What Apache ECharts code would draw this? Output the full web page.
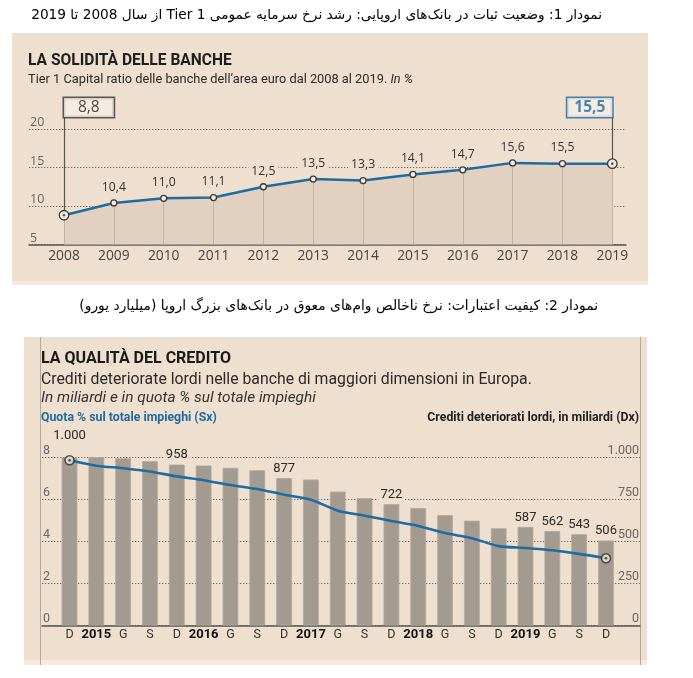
<!DOCTYPE html>
<html>
<head>
<meta charset="utf-8">
<script src="https://cdn.jsdelivr.net/npm/echarts@6/dist/echarts.min.js"></script>
<style>
html,body{margin:0;padding:0;background:#ffffff;}
#c{width:693px;height:678px;}
</style>
</head>
<body>
<div id="c"></div>
<script>
// ---------- Chart 1 data ----------
const years = ['2008','2009','2010','2011','2012','2013','2014','2015','2016','2017','2018','2019'];
const tier1 = [8.8, 10.4, 11.0, 11.1, 12.5, 13.5, 13.3, 14.1, 14.7, 15.6, 15.5, 15.5];
const tier1Ticks = [5, 10, 15, 20];

// ---------- Chart 2 data ----------
const quarters = ['2014-12','2015-03','2015-06','2015-09','2015-12','2016-03','2016-06','2016-09','2016-12',
  '2017-03','2017-06','2017-09','2017-12','2018-03','2018-06','2018-09','2018-12','2019-03','2019-06','2019-09','2019-12'];
const quarterTicks = ['D','2015','G','S','D','2016','G','S','D','2017','G','S','D','2018','G','S','D','2019','G','S','D'];
const nplBillion = [1000, 1015, 995, 978, 958, 952, 938, 924, 877, 869, 797, 758, 722, 699, 657, 624, 579, 587, 562, 543, 506];
const nplShare = [7.87, 7.61, 7.49, 7.33, 7.10, 6.92, 6.69, 6.50, 6.23, 5.99, 5.47, 5.23, 4.98, 4.74, 4.40, 4.16, 3.78, 3.69, 3.58, 3.41, 3.20];
const nplLabelled = [0, 4, 8, 12, 17, 18, 19, 20];
const shareTicks = [0, 2, 4, 6, 8];
const billionTicks = [0, 250, 500, 750, 1000];

// ---------- Texts ----------
const CAP1 = 'نمودار 1: وضعیت ثبات در بانک‌های اروپایی: رشد نرخ سرمایه عمومی Tier 1 از سال 2008 تا 2019';
const CAP2 = 'نمودار 2: کیفیت اعتبارات: نرخ ناخالص وام‌های معوق در بانک‌های بزرگ اروپا (میلیارد یورو)';
const T1 = 'LA SOLIDITÀ DELLE BANCHE';
const S1 = 'Tier 1 Capital ratio delle banche dell’area euro dal 2008 al 2019.';
const S1b = 'In %';
const T2 = 'LA QUALITÀ DEL CREDITO';
const S2 = 'Crediti deteriorate lordi nelle banche di maggiori dimensioni in Europa.';
const S2b = 'In miliardi e in quota % sul totale impieghi';
const L2a = 'Quota % sul totale impieghi (Sx)';
const L2b = 'Crediti deteriorati lordi, in miliardi (Dx)';

// ---------- Styling ----------
const PANEL = '#eedfcf';
const STRIP = '#f7eadc';
const AREA = '#e2d0c0';
const BLUE = '#1c6ca3';
const BAR = '#a39b90';
const GRIDC = '#6f6b67';
const F1 = '"Open Sans", "Noto Sans", sans-serif';
const F2 = 'Roboto, "Noto Sans", sans-serif';
const FP = '"DejaVu Sans", "Noto Sans", serif';

const Y1_MIN = tier1Ticks[0];
const Y1_MAX = tier1Ticks[tier1Ticks.length - 1];
const Y1_TOP = 21.5; // headroom for the value boxes
const PX1 = 7.7;     // px per unit chart 1
const AX1 = 244.5;   // baseline y of chart 1

const fmt1 = v => v.toFixed(1).replace('.', ',');
const fmt2 = v => String(v).replace(/\B(?=(\d{3})+(?!\d))/g, '.');

const dotted = {type: [1.3, 1.7], color: GRIDC, width: 1.1};

const last1 = tier1.length - 1;
const last2 = nplShare.length - 1;

const txt = (text, x, y, align, extra) => ({type: 'text', z: 10,
  style: Object.assign({text: text, x: x, y: y, align: align, verticalAlign: 'middle', textAlign: align, textVerticalAlign: 'middle'}, extra)});

const option = {
  animation: false,
  backgroundColor: '#ffffff',
  graphic: [
    {type: 'rect', z: -5, shape: {x: 12, y: 33, width: 636, height: 252}, style: {fill: PANEL}},
    {type: 'rect', z: -4, shape: {x: 12, y: 281, width: 636, height: 4}, style: {fill: STRIP}},
    {type: 'rect', z: -5, shape: {x: 24, y: 337, width: 623, height: 328}, style: {fill: PANEL}},
    {type: 'rect', z: -4, shape: {x: 24, y: 660, width: 623, height: 5}, style: {fill: STRIP}},
    {type: 'line', z: -3, shape: {x1: 40.5, y1: 337, x2: 40.5, y2: 665}, style: {stroke: '#b3a79b', lineWidth: 1}},
    {type: 'line', z: -3, shape: {x1: 640.5, y1: 337, x2: 640.5, y2: 665}, style: {stroke: '#b3a79b', lineWidth: 1}},
    txt('\u202B' + CAP1 + '\u202C', 602, 15, 'right', {fontSize: 13.7, fontFamily: FP, fill: '#000'}),
    txt('\u202B' + CAP2 + '\u202C', 598, 306.5, 'right', {fontSize: 13.85, fontFamily: FP, fill: '#000'}),
    txt(T1, 28, 61.5, 'left', {fontSize: 15.6, fontWeight: 'bold', fontFamily: F2, fill: '#1e1e1e'}),
    txt('{a|' + S1 + ' }{b|' + S1b + '}', 28, 80, 'left', {
      rich: {a: {fontSize: 12.8, fontFamily: F2, fill: '#2a2a2a', color: '#2a2a2a'}, b: {fontSize: 12.8, fontFamily: F2, fontStyle: 'italic', fill: '#2a2a2a', color: '#2a2a2a'}}}),
    txt(T2, 41, 359, 'left', {fontSize: 16, fontWeight: 'bold', fontFamily: F2, fill: '#1a1a1a'}),
    txt(S2, 41, 380, 'left', {fontSize: 15.8, fontFamily: F2, fill: '#2a2a2a'}),
    txt(S2b, 41, 398.5, 'left', {fontSize: 15.4, fontStyle: 'italic', fontFamily: F2, fill: '#333'}),
    txt(L2a, 41, 418, 'left', {fontSize: 12.3, fontWeight: 'bold', fontFamily: F2, fill: BLUE}),
    txt(L2b, 639, 417.5, 'right', {fontSize: 12.3, fontWeight: 'bold', fontFamily: F2, fill: '#1e1e1e'})
  ],
  grid: [
    {left: 29, right: 67, top: AX1 - (Y1_MAX - Y1_MIN) * PX1, bottom: 678 - AX1},
    {left: 64, right: 80.7, top: AX1 - (Y1_TOP - Y1_MIN) * PX1, bottom: 678 - AX1},
    {left: 42, right: 53, top: 457.5, bottom: 52.5},
    {left: 56.1, right: 73.6, top: 457.5, bottom: 52.5}
  ],
  xAxis: [
    {gridIndex: 0, type: 'value', min: 0, max: 1, axisLine: {show: true, onZero: false, lineStyle: {color: '#555', width: 1.5}}, axisTick: {show: false}, axisLabel: {show: false}, splitLine: {show: false}},
    {gridIndex: 1, type: 'category', data: years, boundaryGap: false, axisLine: {show: false}, axisTick: {show: false},
      axisLabel: {interval: 0, margin: 5, fontSize: 13.8, color: '#444', fontFamily: F1}, splitLine: {show: false}},
    {gridIndex: 2, type: 'value', min: 0, max: 1, axisLine: {show: true, onZero: false, lineStyle: {color: '#555', width: 1.5}}, axisTick: {show: false}, axisLabel: {show: false}, splitLine: {show: false}},
    {gridIndex: 3, type: 'category', data: quarters, axisLine: {show: false}, axisTick: {show: false}, splitLine: {show: false},
      axisLabel: {interval: 0, margin: 3,
        formatter: (v, i) => /^\d{4}$/.test(quarterTicks[i]) ? '{y|' + quarterTicks[i] + '}' : '{q|' + quarterTicks[i] + '}',
        rich: {y: {fontSize: 13, fontWeight: 'bold', color: '#111', fontFamily: F2}, q: {fontSize: 12.5, color: '#333', fontFamily: F2}}}}
  ],
  yAxis: [
    {gridIndex: 0, type: 'value', min: Y1_MIN, max: Y1_MAX, interval: tier1Ticks[1] - tier1Ticks[0],
      axisLine: {show: false}, axisTick: {show: false}, splitLine: {show: true, lineStyle: dotted},
      axisLabel: {inside: true, verticalAlign: 'bottom', margin: 1, color: '#666', fontSize: 12.5, fontFamily: F1}},
    {gridIndex: 1, type: 'value', min: Y1_MIN, max: Y1_TOP, show: false, splitLine: {show: false}},
    {gridIndex: 2, type: 'value', position: 'left', min: shareTicks[0], max: shareTicks[shareTicks.length - 1], interval: shareTicks[1] - shareTicks[0],
      axisLine: {show: false}, axisTick: {show: false}, splitLine: {show: true, lineStyle: dotted},
      axisLabel: {inside: true, verticalAlign: 'bottom', margin: 1, color: '#666', fontSize: 12.5, fontFamily: F2}},
    {gridIndex: 2, type: 'value', position: 'right', min: billionTicks[0], max: billionTicks[billionTicks.length - 1], interval: billionTicks[1] - billionTicks[0],
      axisLine: {show: false}, axisTick: {show: false}, splitLine: {show: false},
      axisLabel: {inside: true, verticalAlign: 'bottom', margin: 1, color: '#666', fontSize: 12.5, fontFamily: F2, formatter: v => fmt2(v)}},
    {gridIndex: 3, type: 'value', position: 'left', min: shareTicks[0], max: shareTicks[shareTicks.length - 1], show: false, splitLine: {show: false}},
    {gridIndex: 3, type: 'value', position: 'right', min: billionTicks[0], max: billionTicks[billionTicks.length - 1], show: false, splitLine: {show: false}}
  ],
  series: [
    // Chart 1: line + area
    {type: 'line', xAxisIndex: 1, yAxisIndex: 1, data: tier1, symbol: 'none', z: 2,
      lineStyle: {color: BLUE, width: 2.5}, areaStyle: {color: AREA, opacity: 1, origin: 'start'},
      markLine: {silent: true, symbol: 'none', label: {show: false}, lineStyle: {type: 'solid'},
        data: tier1.map((v, i) => [
          {coord: [years[i], v], lineStyle: {color: '#c2b3a5', width: 1, type: 'solid'}},
          {coord: [years[i], Y1_MIN]}
        ]).concat([
          [{coord: [years[0], tier1[0]], lineStyle: {color: '#555', width: 1.2, type: 'solid'}}, {coord: [years[0], Y1_TOP]}],
          [{coord: [years[last1], tier1[last1]], lineStyle: {color: '#555', width: 1.2, type: 'solid'}}, {coord: [years[last1], Y1_TOP]}]
        ])}},
    // Chart 1: point markers + labels
    {type: 'scatter', xAxisIndex: 1, yAxisIndex: 1, z: 6,
      data: tier1.map((v, i) => {
        const end = (i === 0 || i === last1);
        return {value: [i, v], symbolSize: end ? 9.5 : 6, label: {show: !end}};
      }),
      itemStyle: {color: '#f5ece3', borderColor: '#3a3a3a', borderWidth: 1.3, opacity: 1},
      label: {position: 'top', distance: 6, formatter: p => fmt1(p.value[1]), fontSize: 12.2, fontFamily: F1, color: '#333',
        backgroundColor: PANEL, padding: [0, 3]}},
    {type: 'scatter', xAxisIndex: 1, yAxisIndex: 1, z: 7, symbolSize: 2.6,
      data: [[0, tier1[0]], [last1, tier1[last1]]], itemStyle: {color: '#333'}},
    // Chart 1: value boxes
    {type: 'scatter', xAxisIndex: 1, yAxisIndex: 1, z: 8, symbolSize: 1,
      itemStyle: {color: 'rgba(0,0,0,0)'},
      data: [
        {value: [0, Y1_TOP], label: {show: true, align: 'left', formatter: () => fmt1(tier1[0]), color: '#222', borderColor: '#333', padding: [2, 14, 1, 14]}},
        {value: [last1, Y1_TOP], label: {show: true, align: 'right', formatter: () => fmt1(tier1[last1]), color: BLUE, fontWeight: 'bold', borderColor: BLUE, padding: [2, 7, 1, 7]}}
      ],
      label: {position: 'top', distance: 0, fontSize: 15.5, lineHeight: 16, fontFamily: F1, backgroundColor: '#f7eee5', borderWidth: 1.5}},
    // Chart 2: bars
    {type: 'bar', xAxisIndex: 3, yAxisIndex: 5, barWidth: 15.7, z: 2,
      itemStyle: {color: BAR, borderColor: '#b2a89c', borderWidth: 0.8},
      data: nplBillion.map((v, i) => ({value: v, label: {show: nplLabelled.indexOf(i) >= 0, distance: i === 0 ? 15 : 3}})),
      label: {position: 'top', formatter: p => fmt2(p.value), fontSize: 13, fontFamily: F2, color: '#2a2a2a', backgroundColor: PANEL, padding: [0, 2]}},
    // Chart 2: share line
    {type: 'line', xAxisIndex: 3, yAxisIndex: 4, data: nplShare, smooth: 0.25, symbol: 'none', z: 4,
      lineStyle: {color: BLUE, width: 2.6}},
    {type: 'scatter', xAxisIndex: 3, yAxisIndex: 4, z: 6, symbolSize: 9,
      data: [[0, nplShare[0]], [last2, nplShare[last2]]],
      itemStyle: {color: '#f2e6da', borderColor: '#2b2b2b', borderWidth: 1.5}},
    {type: 'scatter', xAxisIndex: 3, yAxisIndex: 4, z: 7, symbolSize: 2.6,
      data: [[0, nplShare[0]], [last2, nplShare[last2]]], itemStyle: {color: '#2b2b2b'}}
  ]
};

const chart = echarts.init(document.getElementById('c'), null, {renderer: 'canvas'});
chart.setOption(option);
</script>
</body>
</html>
